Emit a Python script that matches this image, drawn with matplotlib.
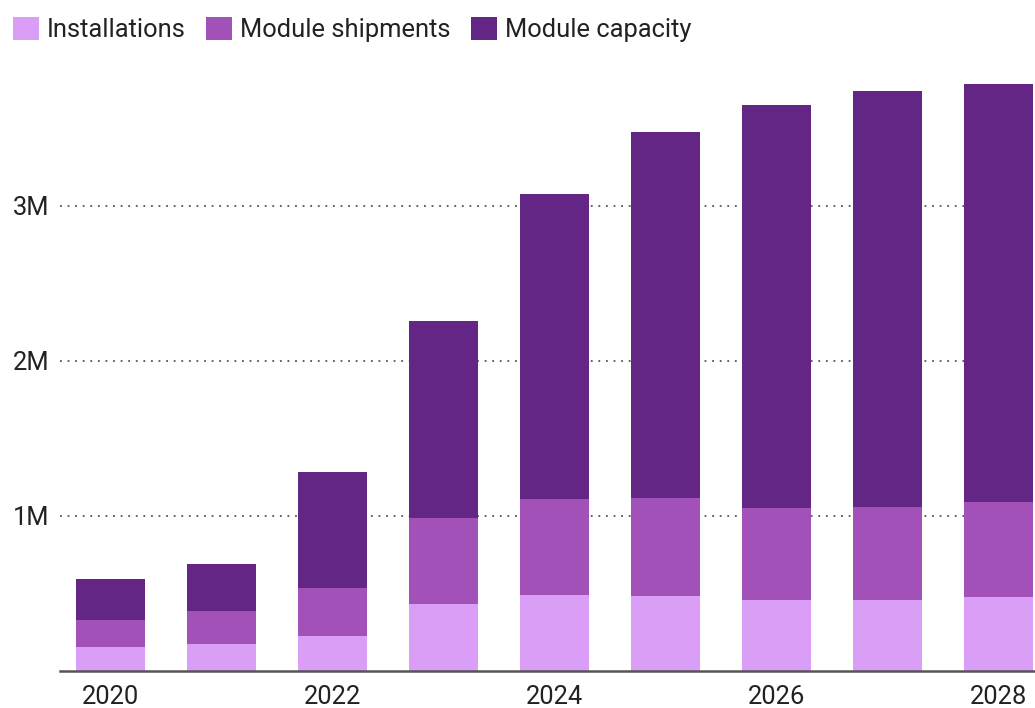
import numpy as np
import matplotlib.pyplot as plt
from matplotlib.patches import Patch

years = np.arange(2020, 2029)
installations = np.array([0.151, 0.170, 0.224, 0.428, 0.488, 0.483, 0.457, 0.457, 0.475]) * 1e6
shipments = np.array([0.176, 0.213, 0.311, 0.558, 0.620, 0.630, 0.593, 0.596, 0.614]) * 1e6
capacity = np.array([0.262, 0.307, 0.745, 1.270, 1.969, 2.365, 2.602, 2.690, 2.699]) * 1e6

series = ["Installations", "Module shipments", "Module capacity"]
colors = ["#DA9EF6", "#A251B9", "#632685"]

plt.rcParams['font.family'] = ['Roboto', 'DejaVu Sans']
fs = 18.4

fig = plt.figure(figsize=(10.35, 7.08), dpi=100)
ax = fig.add_axes([0.058, 0.0527, 0.942, 0.8757])

bottom = np.zeros(len(years))
for vals, c in zip([installations, shipments, capacity], colors):
    ax.bar(years, vals, width=0.62, bottom=bottom, color=c, zorder=3)
    bottom += vals

ax.set_xlim(2019.545, 2028.33)
ax.set_ylim(0, 4e6)

ax.set_yticks([1e6, 2e6, 3e6])
ax.set_yticklabels(["1M", "2M", "3M"])
ax.set_xticks([2020, 2022, 2024, 2026, 2028])
ax.tick_params(axis='y', length=0, pad=34, labelsize=fs, labelcolor='#222222')
ax.tick_params(axis='x', length=0, pad=10.5, labelsize=fs, labelcolor='#222222')
for lbl in ax.get_yticklabels():
    lbl.set_horizontalalignment('left')

ax.grid(axis='y', linestyle=(0, (1, 3.2)), color='#555555', linewidth=1.3, zorder=1)
for s in ['top', 'right', 'left']:
    ax.spines[s].set_visible(False)
ax.spines['bottom'].set_color('#555555')
ax.spines['bottom'].set_linewidth(1.8)
ax.spines['bottom'].set_zorder(4)

handles = [Patch(facecolor=c, edgecolor='none') for c in colors]
fig.legend(handles, series, loc='upper left', bbox_to_anchor=(12.5 / 1035, 1 - 16.5 / 708),
           ncol=3, frameon=False, fontsize=fs, labelcolor='#222222',
           handlelength=1.04, handleheight=1.04, handletextpad=0.29,
           columnspacing=0.8, borderaxespad=0.0, borderpad=0.0)

fig.savefig("out.png", dpi=100)
